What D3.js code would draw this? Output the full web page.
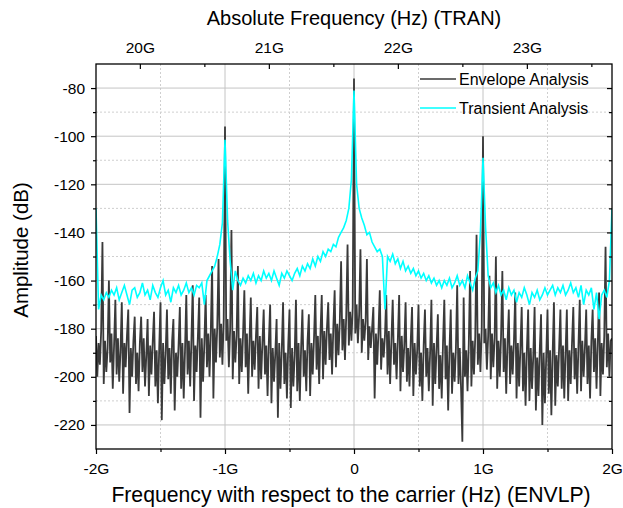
<!DOCTYPE html>
<html>
<head>
<meta charset="utf-8">
<script src="https://cdn.jsdelivr.net/npm/d3@7"></script>
<style>
  body { margin: 0; background: #fff; }
  svg text { font-family: "Liberation Sans", Arial, sans-serif; fill: #000; }
</style>
</head>
<body>
<div id="chart"></div>
<script>
// frequency offset grid (GHz) for each trace: start + step * index
const envStart = -2, envStep = 0.01;
const tranStart = -2, tranStep = 0.02;

// Envelope Analysis (dB), 10 MHz steps from -2G to 2G
const envelope = [
  -183, -200, -186, -195, -181,  -144, -203, -185, -198, -188,
  -160, -194, -182, -205, -187,  -168, -199, -184, -202, -189,
  -169, -207, -186, -196, -183,  -172, -215, -188, -200, -185,
  -175, -203, -190, -206, -186,  -175, -198, -184, -204, -191,
  -176, -208, -187, -199, -185,  -173, -204, -189, -211, -188,
  -169, -218, -186, -203, -190,  -172, -201, -188, -207, -185,
  -176, -214, -190, -200, -187,  -171, -205, -186, -209, -189,
  -166, -199, -185, -204, -184,  -162, -210, -187, -198, -183,
  -167, -217, -184, -202, -186,  -166, -196, -182, -200, -181,
  -154, -209, -180, -194, -179,  -151, -192, -178, -195, -176,
  -96,  -185, -176, -196, -180,  -139, -201, -181, -194, -183,
  -154, -203, -184, -198, -182,  -164, -196, -182, -207, -185,
  -167, -200, -185, -197, -183,  -171, -205, -183, -201, -186,
  -172, -199, -187, -208, -185,  -170, -211, -188, -202, -190,
  -176, -217, -186, -205, -189,  -169, -203, -190, -209, -187,
  -172, -213, -188, -204, -191,  -168, -206, -186, -210, -188,
  -172, -200, -189, -206, -185,  -174, -208, -186, -199, -184,
  -166, -197, -183, -203, -182,  -166, -201, -181, -195, -180,
  -169, -193, -182, -199, -179,  -164, -196, -178, -191, -177,
  -152, -189, -176, -193, -174,  -145, -187, -173, -185, -171,
  -76,  -182, -170, -186, -174,  -147, -190, -176, -185, -177,
  -151, -193, -179, -188, -180,  -171, -209, -182, -195, -181,
  -164, -197, -184, -192, -183,  -166, -199, -181, -203, -185,
  -168, -195, -186, -201, -184,  -166, -206, -183, -198, -187,
  -169, -202, -188, -204, -185,  -171, -208, -186, -199, -189,
  -170, -204, -190, -210, -187,  -172, -200, -188, -206, -190,
  -168, -212, -186, -203, -188,  -174, -205, -191, -209, -186,
  -168, -201, -187, -214, -189,  -172, -207, -190, -202, -188,
  -162, -203, -188, -205, -227,  -167, -200, -189, -206, -186,
  -156, -204, -185, -199, -183,  -141, -195, -182, -198, -180,
  -100, -186, -180, -197, -183,  -158, -201, -182, -196, -184,
  -150, -205, -185, -200, -183,  -156, -198, -184, -207, -186,
  -172, -203, -187, -199, -185,  -165, -209, -186, -204, -188,
  -171, -206, -190, -212, -189,  -172, -210, -188, -205, -191,
  -171, -214, -192, -208, -189,  -174, -220, -190, -211, -192,
  -172, -207, -189, -216, -190,  -169, -212, -191, -204, -188,
  -172, -205, -187, -209, -190,  -172, -210, -189, -203, -186,
  -171, -201, -188, -207, -187,  -168, -206, -185, -200, -188,
  -172, -203, -187, -209, -185,  -172, -198, -184, -205, -186,
  -165, -208, -186, -199, -183,  -146, -196, -182, -200, -185,
  -184
];

// Transient Analysis (dB), 20 MHz steps from -2G to 2G
const transient = [
  -130, -172, -166, -168, -165, -167, -164, -166, -163, -168,
  -165, -162, -166, -170, -164, -163, -167, -165, -161, -166,
  -164, -168, -162, -165, -167, -163, -160, -166, -164, -169,
  -163, -165, -162, -166, -164, -161, -165, -163, -166, -162,
  -163, -161, -170, -160, -158, -156, -154, -150, -145, -136,
  -101.5, -135, -152, -164, -156, -160, -162, -159, -161, -158,
  -160, -157, -161, -158, -160, -156, -159, -157, -160, -156,
  -159, -162, -157, -159, -156, -158, -160, -157, -155, -158,
  -154, -156, -153, -155, -151, -154, -150, -152, -148, -150,
  -147, -148, -145, -146, -142, -140, -138, -135, -130, -118,
  -81,  -120, -130, -134, -137, -141, -140, -144, -146, -148,
  -147, -150, -172, -150, -152, -149, -153, -151, -155, -152,
  -156, -154, -157, -155, -158, -156, -159, -157, -160, -158,
  -161, -159, -162, -160, -163, -160, -162, -159, -163, -161,
  -158, -162, -160, -163, -158, -161, -164, -159, -156, -140,
  -109, -138, -158, -163, -161, -165, -162, -166, -164, -168,
  -163, -166, -164, -169, -165, -167, -163, -166, -170, -165,
  -167, -164, -168, -166, -163, -166, -164, -162, -166, -163,
  -165, -162, -166, -164, -161, -165, -163, -167, -162, -170,
  -164, -166, -163, -172, -165, -176, -166, -164, -167, -160,
  -130
];

const bottomTicks = [-2, -1, 0, 1, 2];
const bottomTickLabels = ["-2G", "-1G", "0", "1G", "2G"];
const bottomMinor = [-1.5, -0.5, 0.5, 1.5];
const topTicks = [20, 21, 22, 23];
const topTickLabels = ["20G", "21G", "22G", "23G"];
const topMinor = [20.5, 21.5, 22.5, 23.5];
const yTicks = [-80, -100, -120, -140, -160, -180, -200, -220];
const yMinor = [-90, -110, -130, -150, -170, -190, -210];
const seriesNames = ["Envelope Analysis", "Transient Analysis"];
const seriesColors = ["#3a3a3a", "#00ffff"];

const W = 623, H = 508;
const pLeft = 96, pRight = 612, pTop = 64, pBottom = 449;

const svg = d3.select("#chart").append("svg")
  .attr("width", W).attr("height", H);

const x = d3.scaleLinear().domain([-2, 2]).range([pLeft, pRight]);
const xTop = d3.scaleLinear().domain([19.66, 23.66]).range([pLeft, pRight]);
const y = d3.scaleLinear().domain([-230, -70]).range([pBottom, pTop]);

// grid
const grid = svg.append("g");
grid.selectAll(".vmaj").data([-1, 0, 1]).enter().append("line")
  .attr("x1", d => x(d)).attr("x2", d => x(d)).attr("y1", pTop).attr("y2", pBottom)
  .attr("stroke", "#c4c4c4").attr("stroke-width", 1);
grid.selectAll(".vmin").data(bottomMinor).enter().append("line")
  .attr("x1", d => x(d)).attr("x2", d => x(d)).attr("y1", pTop).attr("y2", pBottom)
  .attr("stroke", "#cfcfcf").attr("stroke-width", 1).attr("stroke-dasharray", "2,2");
grid.selectAll(".hmaj").data(yTicks).enter().append("line")
  .attr("x1", pLeft).attr("x2", pRight).attr("y1", d => y(d)).attr("y2", d => y(d))
  .attr("stroke", "#c4c4c4").attr("stroke-width", 1);
grid.selectAll(".hmin").data(yMinor).enter().append("line")
  .attr("x1", pLeft).attr("x2", pRight).attr("y1", d => y(d)).attr("y2", d => y(d))
  .attr("stroke", "#cfcfcf").attr("stroke-width", 1).attr("stroke-dasharray", "2,2");

// traces
svg.append("clipPath").attr("id", "plotclip").append("rect")
  .attr("x", pLeft).attr("y", pTop).attr("width", pRight - pLeft).attr("height", pBottom - pTop);

const envLine = d3.line()
  .x((d, i) => x(envStart + envStep * i))
  .y(d => y(d));
const tranLine = d3.line()
  .x((d, i) => x(tranStart + tranStep * i))
  .y(d => y(d));

svg.append("path").datum(envelope)
  .attr("clip-path", "url(#plotclip)")
  .attr("d", envLine).attr("fill", "none")
  .attr("stroke", seriesColors[0]).attr("stroke-width", 1.8);
svg.append("path").datum(transient)
  .attr("clip-path", "url(#plotclip)")
  .attr("d", tranLine).attr("fill", "none")
  .attr("stroke", seriesColors[1]).attr("stroke-width", 1.6);

// axes
const fmtBottom = d => bottomTickLabels[bottomTicks.indexOf(d)];
const fmtTop = d => topTickLabels[topTicks.indexOf(d)];

function styleAxis(g) {
  g.select(".domain").remove();
  g.selectAll("line").attr("stroke", "#000").attr("stroke-width", 1.2);
  g.selectAll("text").attr("font-size", 15.5);
}

svg.append("g").attr("transform", `translate(0,${pBottom})`)
  .call(d3.axisBottom(x).tickValues(bottomTicks).tickFormat(fmtBottom).tickSize(5).tickPadding(9))
  .call(styleAxis);
svg.append("g").attr("transform", `translate(0,${pBottom})`)
  .call(d3.axisBottom(x).tickValues(bottomMinor).tickFormat("").tickSize(3))
  .call(styleAxis);

svg.append("g").attr("transform", `translate(0,${pTop})`)
  .call(d3.axisTop(xTop).tickValues(topTicks).tickFormat(fmtTop).tickSize(-5).tickPadding(11))
  .call(styleAxis);
svg.append("g").attr("transform", `translate(0,${pTop})`)
  .call(d3.axisTop(xTop).tickValues(topMinor).tickFormat("").tickSize(-3))
  .call(styleAxis);

svg.append("g").attr("transform", `translate(${pLeft},0)`)
  .call(d3.axisLeft(y).tickValues(yTicks).tickFormat(d => String(d)).tickSize(5).tickPadding(6))
  .call(styleAxis);
svg.append("g").attr("transform", `translate(${pLeft},0)`)
  .call(d3.axisLeft(y).tickValues(yMinor).tickFormat("").tickSize(3))
  .call(styleAxis);

svg.append("g").attr("transform", `translate(${pRight},0)`)
  .call(d3.axisRight(y).tickValues(yTicks).tickFormat("").tickSize(-5))
  .call(styleAxis);
svg.append("g").attr("transform", `translate(${pRight},0)`)
  .call(d3.axisRight(y).tickValues(yMinor).tickFormat("").tickSize(-3))
  .call(styleAxis);

// frame
svg.append("rect")
  .attr("x", pLeft).attr("y", pTop).attr("width", pRight - pLeft).attr("height", pBottom - pTop)
  .attr("fill", "none").attr("stroke", "#000").attr("stroke-width", 1.3);

// titles
svg.append("text").attr("x", 354).attr("y", 25).attr("text-anchor", "middle")
  .attr("font-size", 20).text("Absolute Frequency (Hz) (TRAN)");
svg.append("text").attr("x", 351).attr("y", 502).attr("text-anchor", "middle")
  .attr("font-size", 21.2).text("Frequency with respect to the carrier (Hz) (ENVLP)");
svg.append("text").attr("transform", "translate(28,250) rotate(-90)").attr("text-anchor", "middle")
  .attr("font-size", 20.5).text("Amplitude (dB)");

// legend
const legend = svg.append("g");
seriesNames.forEach((name, i) => {
  const ly = 79 + i * 29;
  legend.append("line").attr("x1", 420).attr("x2", 456).attr("y1", ly).attr("y2", ly)
    .attr("stroke", seriesColors[i]).attr("stroke-width", 1.6);
  legend.append("text").attr("x", 459).attr("y", ly).attr("dy", "0.35em")
    .attr("font-size", 16).text(name);
});
</script>
</body>
</html>
